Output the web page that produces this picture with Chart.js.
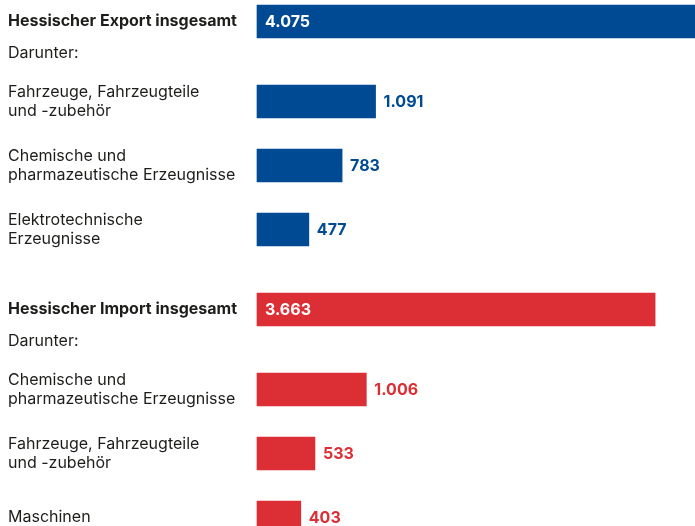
<!DOCTYPE html>
<html lang="de">
<head>
<meta charset="utf-8">
<script src="https://cdn.jsdelivr.net/npm/chart.js@4.4.1/dist/chart.umd.min.js"></script>
<style>
  html, body { margin: 0; padding: 0; background: #fff; }
  .chart-wrap { width: 695px; height: 526px; position: relative; }
</style>
</head>
<body>
<div class="chart-wrap"><canvas id="tradeChart"></canvas></div>
<script>
// Werte in Mio. Euro
const exportTotalLabel = 'Hessischer Export insgesamt';
const exportTotal = 4075;
const exportCategories = [
  ['Fahrzeuge, Fahrzeugteile', 'und -zubehör'],
  ['Chemische und', 'pharmazeutische Erzeugnisse'],
  ['Elektrotechnische', 'Erzeugnisse']
];
const exportValues = [1091, 783, 477];

const importTotalLabel = 'Hessischer Import insgesamt';
const importTotal = 3663;
const importCategories = [
  ['Chemische und', 'pharmazeutische Erzeugnisse'],
  ['Fahrzeuge, Fahrzeugteile', 'und -zubehör'],
  ['Maschinen']
];
const importValues = [1006, 533, 403];

const subLabel = 'Darunter:';

const BLUE = '#004a94';
const RED = '#dc2f35';
const FONT = 'Inter, "Open Sans", sans-serif';

// build rows, spacer slots keep the uneven vertical rhythm
const labels = [];
const values = [];
const kinds = [];
const colors = [];

function push(label, value, kind, color, span) {
  labels.push(label);
  values.push(value);
  kinds.push(kind);
  colors.push(color);
  for (let i = 1; i < span; i++) {
    labels.push('');
    values.push(null);
    kinds.push('gap');
    colors.push(color);
  }
}

function addGroup(totalLabel, total, cats, vals, color, last) {
  push(totalLabel, total, 'total', color, 2);
  push(subLabel, null, 'sub', color, 3);
  cats.forEach(function (c, i) {
    let span = 4;
    if (i === cats.length - 1) span = last ? 1 : 5;
    push(c, vals[i], 'item', color, span);
  });
}

addGroup(exportTotalLabel, exportTotal, exportCategories, exportValues, BLUE, false);
addGroup(importTotalLabel, importTotal, importCategories, importValues, RED, true);

function fmt(v) {
  return String(v).replace(/\B(?=(\d{3})+(?!\d))/g, '.');
}

const valueLabels = {
  id: 'valueLabels',
  afterDatasetsDraw(chart) {
    const ctx = chart.ctx;
    const meta = chart.getDatasetMeta(0);
    ctx.save();
    ctx.font = 'bold 16px ' + FONT;
    ctx.textBaseline = 'middle';
    ctx.textAlign = 'left';
    meta.data.forEach(function (bar, i) {
      const v = values[i];
      if (v === null) return;
      if (kinds[i] === 'total') {
        ctx.fillStyle = '#ffffff';
        ctx.fillText(fmt(v), bar.base + 8, bar.y + 1);
      } else {
        ctx.fillStyle = colors[i];
        ctx.fillText(fmt(v), bar.x + 8, bar.y + 1);
      }
    });
    ctx.restore();
  }
};

const ctx = document.getElementById('tradeChart').getContext('2d');
new Chart(ctx, {
  type: 'bar',
  data: {
    labels: labels,
    datasets: [{
      data: values,
      backgroundColor: colors,
      barThickness: 33,
      borderWidth: 0,
      clip: false
    }]
  },
  options: {
    indexAxis: 'y',
    responsive: true,
    maintainAspectRatio: false,
    animation: false,
    layout: { padding: { top: 13.5, bottom: 0.5, left: 8, right: 0 } },
    plugins: {
      legend: { display: false },
      tooltip: { enabled: false }
    },
    scales: {
      x: {
        display: false,
        min: 0,
        max: 4030
      },
      y: {
        afterFit: function (scale) {
          scale.width = 249;
          scale.paddingTop = 0;
          scale.paddingBottom = 0;
        },
        grid: { display: false },
        border: { display: false },
        ticks: {
          autoSkip: false,
          crossAlign: 'far',
          color: '#1d1d1b',
          font: function (c) {
            return {
              family: FONT,
              size: 16,
              lineHeight: 1.2,
              weight: kinds[c.index] === 'total' ? 'bold' : 'normal'
            };
          }
        }
      }
    }
  },
  plugins: [valueLabels]
});
</script>
</body>
</html>
